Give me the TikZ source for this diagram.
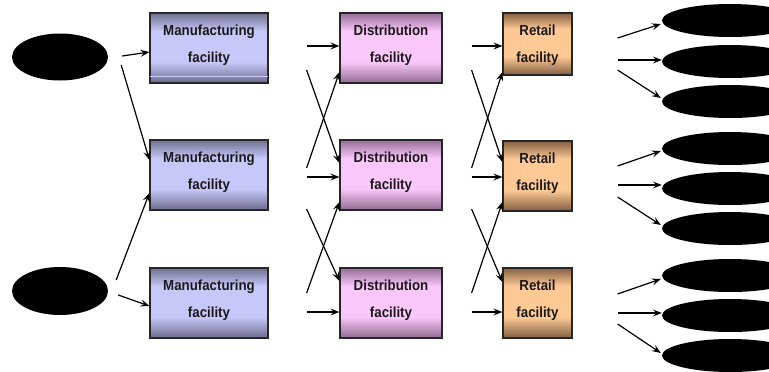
\documentclass[tikz,border=0pt]{standalone}
\usepackage{fontspec}
\setsansfont{Liberation Sans}[FakeStretch=0.91]
\usetikzlibrary{shapes.geometric,arrows.meta}

% vertical shades for the three kinds of boxes
\pgfdeclareverticalshading{mfgshade}{100bp}{rgb(0bp)=(.42,.42,.55); rgb(25bp)=(.42,.42,.55); rgb(40bp)=(.78,.78,.98); rgb(62bp)=(.78,.78,.98); rgb(75bp)=(.44,.44,.56); rgb(100bp)=(.44,.44,.56)}
\pgfdeclareverticalshading{distshade}{100bp}{rgb(0bp)=(.57,.42,.57); rgb(25bp)=(.57,.42,.57); rgb(40bp)=(.98,.78,.98); rgb(62bp)=(.98,.78,.98); rgb(75bp)=(.59,.43,.59); rgb(100bp)=(.59,.43,.59)}
\pgfdeclareverticalshading{retshade}{100bp}{rgb(0bp)=(.5,.37,.25); rgb(25bp)=(.5,.37,.25); rgb(40bp)=(1,.79,.59); rgb(62bp)=(1,.79,.59); rgb(75bp)=(.52,.38,.26); rgb(100bp)=(.52,.38,.26)}

\begin{document}
\begin{tikzpicture}[x=1pt,y=-1pt,
	box/.style={draw=black!85,line width=1.2pt,minimum height=70pt,inner sep=0pt,align=center,
		text=black!90,text depth=9pt,font=\sffamily\bfseries\fontsize{14.6}{27}\selectfont},
	mfg/.style={box,shading=mfgshade,minimum width=118pt},
	dist/.style={box,shading=distshade,minimum width=102pt},
	ret/.style={box,shading=retshade,minimum width=69pt},
	blob/.style={ellipse,fill=black,inner sep=0pt},
	flow/.style={line width=1.2pt,-{Stealth[length=9pt,width=7pt,inset=3.5pt]}}]
	\clip (0,0) rectangle (769,372);

	%forrasok
	\node [blob,minimum width=96pt,minimum height=47pt] (src1) at (60,57) {};
	\node [blob,minimum width=96pt,minimum height=48pt] (src2) at (60,291) {};

	%gyarak, elosztok, boltok
	\node [mfg] (m1) at (209,48) {Manufacturing\\facility};
	\node [mfg] (m2) at (209,175) {Manufacturing\\facility};
	\node [mfg] (m3) at (209,303) {Manufacturing\\facility};
	\draw [line width=1.4pt,white!80!blue] ([shift={(0.6,-7)}]m1.south west) -- ([shift={(-0.6,-7)}]m1.south east);
	\node [dist] (d1) at (391,48) {Distribution\\facility};
	\node [dist] (d2) at (391,175) {Distribution\\facility};
	\node [dist] (d3) at (391,303) {Distribution\\facility};
	\node [ret,minimum height=62pt,text depth=0pt] (r1) at (537.5,44) {Retail\\facility};
	\node [ret] (r2) at (537.5,176) {Retail\\facility};
	\node [ret] (r3) at (537.5,303) {Retail\\facility};

	%vevok
	\foreach \y [count=\i] in {20.5,61.5,101.5,148.5,188.5,228.5,275.5,315.5,355.5}
		\node [blob,minimum width=136pt,minimum height=33pt] (c\i) at (730,\y) {};

	%nyilak
	\draw [flow] ([shift={(14,-1)}]src1.east) -- ([shift={(0,4)}]m1.west);
	\draw [flow] ([shift={(13,8)}]src1.east) -- ([shift={(0,-15)}]m2.west);
	\draw [flow] ([shift={(8,-11)}]src2.east) -- ([shift={(0,18)}]m2.west);
	\draw [flow] ([shift={(10,4)}]src2.east) -- ([shift={(0,3)}]m3.west);

	\draw [flow] ([shift={(38,-2)}]m1.east) -- ([shift={(0,-2)}]d1.west);
	\draw [flow] ([shift={(38,22)}]m1.east) -- ([shift={(0,-12)}]d2.west);
	\draw [flow] ([shift={(38,-7)}]m2.east) -- ([shift={(0,24)}]d1.west);
	\draw [flow] ([shift={(38,2)}]m2.east) -- ([shift={(0,2)}]d2.west);
	\draw [flow] ([shift={(38,34)}]m2.east) -- ([shift={(0,-22)}]d3.west);
	\draw [flow] ([shift={(38,-10)}]m3.east) -- ([shift={(0,27)}]d2.west);
	\draw [flow] ([shift={(38,9)}]m3.east) -- ([shift={(0,9)}]d3.west);

	\draw [flow] ([shift={(29,-2)}]d1.east) -- ([shift={(0,2)}]r1.west);
	\draw [flow] ([shift={(29,22)}]d1.east) -- ([shift={(0,-14)}]r2.west);
	\draw [flow] ([shift={(29,-7)}]d2.east) -- ([shift={(0,28)}]r1.west);
	\draw [flow] ([shift={(29,2)}]d2.east) -- ([shift={(0,1)}]r2.west);
	\draw [flow] ([shift={(29,34)}]d2.east) -- ([shift={(0,-21)}]r3.west);
	\draw [flow] ([shift={(29,-10)}]d3.east) -- ([shift={(0,26)}]r2.west);
	\draw [flow] ([shift={(29,9)}]d3.east) -- ([shift={(0,9)}]r3.west);

	\draw [flow] ([shift={(45,-6)}]r1.east) -- ([shift={(-1,3.5)}]c1.west);
	\draw [flow] ([shift={(45,16)}]r1.east) -- ([shift={(0,-1.5)}]c2.west);
	\draw [flow] ([shift={(45,26)}]r1.east) -- ([shift={(-1,-3.5)}]c3.west);
	\draw [flow] ([shift={(45,-10)}]r2.east) -- ([shift={(-1,2.5)}]c4.west);
	\draw [flow] ([shift={(45,9)}]r2.east) -- ([shift={(0,-3.5)}]c5.west);
	\draw [flow] ([shift={(45,21)}]r2.east) -- ([shift={(-1,-3.5)}]c6.west);
	\draw [flow] ([shift={(45,-9)}]r3.east) -- ([shift={(-1,3.5)}]c7.west);
	\draw [flow] ([shift={(45,10)}]r3.east) -- ([shift={(0,-2.5)}]c8.west);
	\draw [flow] ([shift={(45,21)}]r3.east) -- ([shift={(-1,-2.5)}]c9.west);
\end{tikzpicture}
\end{document}
